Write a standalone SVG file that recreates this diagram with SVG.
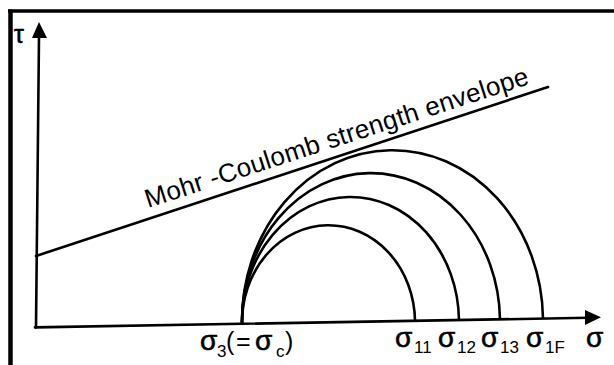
<svg xmlns="http://www.w3.org/2000/svg" width="614" height="365" viewBox="0 0 614 365">
<style>
.ln{fill:none;stroke:#000;stroke-width:2.6;stroke-linecap:round}
.arc{fill:none;stroke:#000;stroke-width:2.6}
.t{font-family:"Liberation Sans",Arial,sans-serif;fill:#000}
.s{font-size:28px;stroke:#000;stroke-width:0.6}
.p{font-size:25px}
.sub{font-size:17px}
</style>
<rect width="614" height="365" fill="#fff"/>
<g id="frame">
<line x1="10.5" y1="9.5" x2="10.5" y2="365" stroke="#000" stroke-width="4.5"/>
<line x1="8" y1="11" x2="614" y2="11" stroke="#000" stroke-width="3.5"/>
</g>
<g id="axes">
<line class="ln" x1="36" y1="327.5" x2="39" y2="36"/>
<polygon points="39,22 32,38 47,38" fill="#000"/>
<text class="t" x="14" y="43" font-size="25" stroke="#000" stroke-width="0.6">τ</text>
<line class="ln" x1="35" y1="327.4" x2="588" y2="317.8"/>
<polygon points="601,317.3 585,310 585,325" fill="#000"/>
</g>
<g id="envelope">
<line class="ln" x1="36" y1="256" x2="548" y2="87"/>
<text class="t" font-size="26" transform="translate(148 208) rotate(-18)" textLength="402" lengthAdjust="spacing">Mohr -Coulomb strength envelope</text>
</g>
<g id="circles">
<path class="arc" d="M242 323.8 A86.5 97 0 0 1 415 320.8"/>
<path class="arc" d="M242 323.8 A108.5 125 0 0 1 459 320"/>
<path class="arc" d="M242 323.8 A129 148.5 0 0 1 500 319.3"/>
<path class="arc" d="M242 323.8 A150.5 171 0 0 1 543 318.6"/>
</g>
<g id="labels" class="t">
<text class="s" x="200" y="350">σ</text>
<text class="sub" x="217" y="357">3</text>
<text class="p" x="226" y="350">(</text>
<text class="p" x="236" y="350">=</text>
<text class="s" x="255" y="350">σ</text>
<text class="sub" x="276" y="357">c</text>
<text class="p" x="285" y="350">)</text>
<text class="s" x="395" y="347">σ</text>
<text class="sub" x="414" y="353">11</text>
<text class="s" x="438" y="347">σ</text>
<text class="sub" x="457" y="353">12</text>
<text class="s" x="481" y="347">σ</text>
<text class="sub" x="500" y="353">13</text>
<text class="s" x="526" y="347">σ</text>
<text class="sub" x="545" y="353">1F</text>
<text class="s" x="586" y="347">σ</text>
</g>
</svg>
